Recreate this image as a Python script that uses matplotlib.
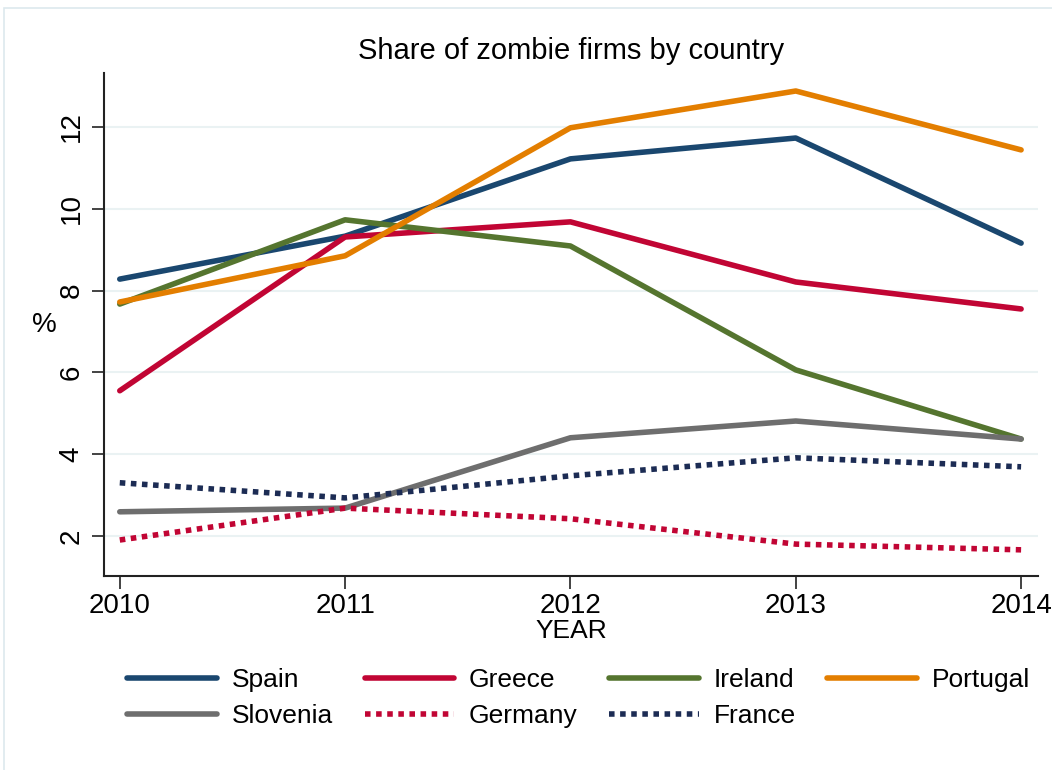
import matplotlib.pyplot as plt
from matplotlib.patches import Rectangle

years = [2010, 2011, 2012, 2013, 2014]

spain = [8.28, 9.33, 11.22, 11.73, 9.16]
greece = [5.55, 9.31, 9.68, 8.21, 7.55]
ireland = [7.67, 9.73, 9.09, 6.06, 4.37]
portugal = [7.72, 8.85, 11.98, 12.88, 11.44]
slovenia = [2.59, 2.68, 4.40, 4.81, 4.37]
germany = [1.90, 2.68, 2.42, 1.80, 1.66]
france = [3.30, 2.93, 3.47, 3.91, 3.69]

series = [
    ('Spain', spain, '#1a476f', '-'),
    ('Greece', greece, '#c10534', '-'),
    ('Ireland', ireland, '#55752f', '-'),
    ('Portugal', portugal, '#e37e00', '-'),
    ('Slovenia', slovenia, '#6e6e6e', '-'),
    ('Germany', germany, '#c10534', (0, (1, 1))),
    ('France', france, '#1c2c54', (0, (1, 1))),
]

plt.rcParams['font.family'] = ['Liberation Sans', 'DejaVu Sans']

fig = plt.figure(figsize=(10.52, 7.7), dpi=100)
fig.patches.append(Rectangle((4 / 1052, -0.01), 1.1, 1 - 8 / 770 + 0.01,
                             transform=fig.transFigure, fill=False,
                             edgecolor='#dde9ee', linewidth=1.2))

ax = fig.add_axes([104 / 1052, 1 - 576 / 770, (1038 - 104) / 1052, (576 - 73) / 770])

lines = {}
for name, vals, col, ls in series:
    ln, = ax.plot(years, vals, color=col, linestyle=ls, linewidth=4.0,
                  solid_capstyle='round', dash_capstyle='butt', label=name)
    lines[name] = ln

ax.set_xlim(2009.93, 2014.075)
ax.set_ylim(1.02, 13.32)
ax.set_xticks(years)
ax.set_yticks([2, 4, 6, 8, 10, 12])
ax.set_yticklabels(['2', '4', '6', '8', '10', '12'], rotation=90, va='center')
ax.grid(axis='y', color='#eaf2f3', linewidth=1.5)
ax.set_axisbelow(True)
for s in ['top', 'right']:
    ax.spines[s].set_visible(False)
for s in ['left', 'bottom']:
    ax.spines[s].set_color('#222222')
    ax.spines[s].set_linewidth(1.5)
ax.tick_params(axis='both', labelsize=20, length=9, width=1.2, color='#222222')
ax.tick_params(axis='y', pad=5)
ax.tick_params(axis='x', pad=3)

ax.set_title('Share of zombie firms by country', fontsize=21, pad=10)
ax.set_xlabel('YEAR', fontsize=19, labelpad=0)
ax.set_ylabel('%', fontsize=20, rotation=0, labelpad=10, va='center')

# legend filled column-wise, so order for row-wise reading
order = ['Spain', 'Slovenia', 'Greece', 'Germany', 'Ireland', 'France', 'Portugal']
fig.legend([lines[n] for n in order], order, loc='center',
           bbox_to_anchor=(0.55, 0.093), ncol=4, frameon=False,
           fontsize=19, handlelength=3.4, columnspacing=1.2, handletextpad=0.55,
           labelspacing=0.45)

fig.savefig('out.png', dpi=100)
